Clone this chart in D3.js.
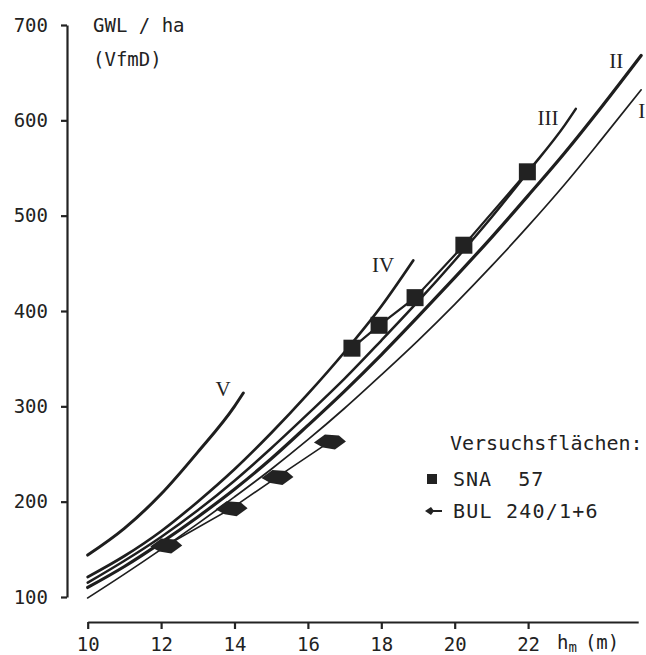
<!DOCTYPE html>
<html>
<head>
<meta charset="utf-8">
<script src="https://cdn.jsdelivr.net/npm/d3@7"></script>
<style>
  body { margin: 0; background: #fff; }
  text { font-family: "DejaVu Sans Mono", monospace; fill: #222; }
  .num { font-family: "Liberation Serif", serif; }
</style>
</head>
<body>
<script>
// Bestandeshöhe h_m (m) gegen GWL / ha (VfmD)
const xTicks = [10, 12, 14, 16, 18, 20, 22]
const yTicks = [100, 200, 300, 400, 500, 600, 700]

const curveI = [[10, 99], [11, 124], [12, 150], [13, 177], [14, 205], [15, 234], [16, 265], [17, 298],
  [18, 333], [19, 369], [20, 407], [21, 447], [22, 489], [23, 533], [24, 580], [25.08, 632]]
const curveII = [[10, 110], [11, 132], [12, 157], [13, 184], [14, 213], [15, 245], [16, 280], [17, 316],
  [18, 354], [19, 394], [20, 435], [21, 477], [22, 521], [23, 566], [24, 614], [25.08, 668]]
const curveIII = [[10, 115], [11, 138], [12, 163], [13, 191], [14, 222], [15, 256], [16, 292], [17, 329],
  [18, 369], [19, 410], [20, 453], [21, 498], [22, 546], [23, 595], [23.3, 612]]
const curveIV = [[10, 121], [11, 143], [12, 169], [13, 200], [14, 234], [15, 272], [16, 313], [17, 357],
  [18, 405], [18.87, 453]]
const curveV = [[10, 144], [11, 172], [12, 208], [13, 252], [14, 300], [14.24, 314]]

const sna57 = [[17.2, 361], [17.94, 385], [18.92, 414], [20.25, 469], [21.98, 546]]
const bul240 = [[12.14, 154], [13.92, 193], [15.17, 226], [16.6, 263]]

const curveNames = ['I', 'II', 'III', 'IV', 'V']
const labelAt = [[25.1, 602], [24.4, 655], [22.54, 595], [18.05, 441], [13.69, 311]]

const width = 646
const height = 655

const x = d3.scaleLinear().domain([10, 25]).range([87.7, 638.2])
const y = d3.scaleLinear().domain([100, 700]).range([597, 25])

const svg = d3.select('body').append('svg')
  .attr('width', width)
  .attr('height', height)

// axes
const yAxis = svg.append('g')
  .attr('transform', 'translate(67,0)')
  .call(d3.axisLeft(y).tickValues(yTicks).tickSize(6).tickSizeOuter(0).tickPadding(13))
yAxis.selectAll('path, line').attr('stroke', '#222').attr('stroke-width', 2.2)
yAxis.selectAll('text').attr('font-size', 19).attr('fill', '#222')
  .attr('font-family', '"DejaVu Sans Mono", monospace')

const xAxis = svg.append('g')
  .attr('transform', 'translate(0,622)')
  .call(d3.axisBottom(x).tickValues(xTicks).tickSize(7).tickSizeOuter(0).tickPadding(9))
xAxis.selectAll('path, line').attr('stroke', '#222').attr('stroke-width', 2.2)
xAxis.selectAll('text').attr('font-size', 19).attr('fill', '#222')
  .attr('font-family', '"DejaVu Sans Mono", monospace')

svg.append('text').attr('x', 93).attr('y', 32).attr('font-size', 19).text('GWL / ha')
svg.append('text').attr('x', 93).attr('y', 66).attr('font-size', 19).text('(VfmD)')

const hLabel = svg.append('text').attr('x', 557).attr('y', 649).attr('font-size', 19)
hLabel.append('tspan').text('h')
hLabel.append('tspan').attr('font-size', 14).attr('dy', 3).text('m')
hLabel.append('tspan').attr('dy', -3).attr('dx', 8).text('(m)')

// curves I - V
const line = d3.line()
  .x(d => x(d[0]))
  .y(d => y(d[1]))
  .curve(d3.curveMonotoneX)

const curves = [curveI, curveII, curveIII, curveIV, curveV]
const widths = [1.7, 3.2, 2.5, 2.7, 3]

svg.append('g')
  .selectAll('path')
  .data(curves)
  .join('path')
  .attr('d', line)
  .attr('fill', 'none')
  .attr('stroke', '#1e1e1e')
  .attr('stroke-width', (d, i) => widths[i])
  .attr('stroke-linecap', 'round')

svg.append('g')
  .selectAll('text')
  .data(curveNames)
  .join('text')
  .attr('class', 'num')
  .attr('x', (d, i) => x(labelAt[i][0]))
  .attr('y', (d, i) => y(labelAt[i][1]))
  .attr('text-anchor', 'middle')
  .attr('font-size', 21)
  .text(d => d)

// Versuchsflächen
const straight = d3.line().x(d => x(d[0])).y(d => y(d[1]))

svg.append('path')
  .attr('d', straight(sna57))
  .attr('fill', 'none')
  .attr('stroke', '#1e1e1e')
  .attr('stroke-width', 2.2)

svg.append('g')
  .selectAll('rect')
  .data(sna57)
  .join('rect')
  .attr('x', d => x(d[0]) - 8.5)
  .attr('y', d => y(d[1]) - 8.5)
  .attr('width', 17)
  .attr('height', 17)
  .attr('fill', '#222')

svg.append('path')
  .attr('d', straight(bul240))
  .attr('fill', 'none')
  .attr('stroke', '#1e1e1e')
  .attr('stroke-width', 1.6)

const bulShape = 'M-16,1L-5,-7L9,-6L16,0L5,8L-7,6Z'

svg.append('g')
  .selectAll('path')
  .data(bul240)
  .join('path')
  .attr('d', bulShape)
  .attr('transform', d => `translate(${x(d[0])},${y(d[1])})`)
  .attr('fill', '#222')

// legend
svg.append('text').attr('x', 450).attr('y', 450).attr('font-size', 20).text('Versuchsflächen:')
svg.append('rect').attr('x', 427).attr('y', 474).attr('width', 10).attr('height', 10).attr('fill', '#222')
svg.append('text').attr('x', 453).attr('y', 486).attr('font-size', 20).attr('letter-spacing', 1)
  .style('white-space', 'pre').text('SNA  57')
svg.append('path').attr('d', 'M425,511L431,507L434,511L431,515Z').attr('fill', '#222')
svg.append('line').attr('x1', 430).attr('x2', 442).attr('y1', 511).attr('y2', 511)
  .attr('stroke', '#222').attr('stroke-width', 2)
svg.append('text').attr('x', 453).attr('y', 518).attr('font-size', 20).attr('letter-spacing', 1.2)
  .text('BUL 240/1+6')
</script>
</body>
</html>
